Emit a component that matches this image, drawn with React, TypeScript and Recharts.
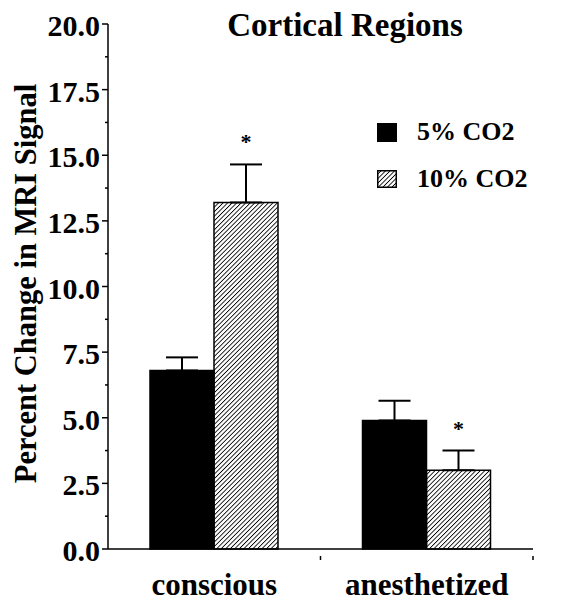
import React from 'react';
import { BarChart, Bar, XAxis, YAxis, ErrorBar } from 'recharts';

const groups = ['conscious', 'anesthetized'];
const co2Low = [6.8, 4.9];
const co2High = [13.2, 3.0];
const errLow = [0.5, 0.75];
const errHigh = [1.45, 0.75];
const sigHigh = [true, true];
const seriesNames = ['5% CO2', '10% CO2'];
const yTicks = [0, 1.25, 2.5, 3.75, 5, 6.25, 7.5, 8.75, 10, 11.25, 12.5, 13.75, 15, 16.25, 17.5, 18.75, 20];

const data = groups.map((g, i) => ({
  name: g,
  low: co2Low[i],
  high: co2High[i],
  eLow: [0, errLow[i]],
  eHigh: [0, errHigh[i]],
  sig: sigHigh[i],
  errH: errHigh[i],
}));

const FONT = '"Liberation Serif", "Times New Roman", serif';

const YTick = (props: any) => {
  const { x, y, payload } = props;
  const major = Math.abs(payload.value / 2.5 - Math.round(payload.value / 2.5)) < 1e-6;
  return (
    <g>
      <line x1={x - (major ? 6 : 3)} x2={x} y1={y} y2={y} stroke="#000" strokeWidth={1.5} />
      {major && (
        <text x={x - 8} y={y} dy={12} textAnchor="end" fontFamily={FONT} fontWeight="bold" fontSize={30} fill="#000">
          {payload.value.toFixed(1)}
        </text>
      )}
    </g>
  );
};

// category label, plus a small tick at the right edge of each band
const XTick = (props: any) => {
  const { x, y, payload } = props;
  const half = payload && payload.offset ? payload.offset : 0;
  return (
    <g>
      {half > 0 && <line x1={x + half} x2={x + half} y1={y - 1} y2={y + 3} stroke="#000" strokeWidth={1.5} />}
      <text x={x} y={y} dy={38} textAnchor="middle" fontFamily={FONT} fontWeight="bold" fontSize={31} fill="#000">
        {payload.value}
      </text>
    </g>
  );
};

const YLabel = (props: any) => {
  const vb = props.viewBox || { x: 0, y: 24, width: 108, height: 525 };
  const cx = vb.x + 26;
  const cy = vb.y + vb.height / 2 - 3;
  return (
    <text x={cx} y={cy} transform={`rotate(-90 ${cx} ${cy})`} textAnchor="middle" dominantBaseline="central"
      fontFamily={FONT} fontWeight="bold" fontSize={30.5} fill="#000">
      Percent Change in MRI Signal
    </text>
  );
};

const Star = (props: any) => {
  const { x, y, width, height, index, value } = props;
  const row = data[index];
  if (!row || !row.sig) return null;
  const perUnit = value ? height / value : 0;
  const top = y - row.errH * perUnit;
  return (
    <text x={x + width / 2} y={top - 15} textAnchor="middle" fontFamily={FONT} fontWeight="bold" fontSize={22} fill="#000">
      *
    </text>
  );
};

const Hatch = ({ id }: { id: string }) => (
  <pattern id={id} width={3.2} height={3.2} patternUnits="userSpaceOnUse" patternTransform="rotate(45)">
    <line x1={0} y1={0} x2={0} y2={3.2} stroke="#000" strokeWidth={1.7} />
  </pattern>
);

const LegendBox = () => (
  <svg width={160} height={80} style={{ display: 'block' }}>
    <defs>
      <Hatch id="hatchLeg" />
    </defs>
    <rect x={0} y={3} width={20} height={19} fill="#000" />
    <text x={40} y={20} fontFamily={FONT} fontWeight="bold" fontSize={26}>{seriesNames[0]}</text>
    <rect x={0.75} y={50.75} width={18.5} height={16.5} fill="url(#hatchLeg)" stroke="#000" strokeWidth={1.5} />
    <text x={40} y={67} fontFamily={FONT} fontWeight="bold" fontSize={26}>{seriesNames[1]}</text>
  </svg>
);

export default function App() {
  return (
    <div style={{ position: 'absolute', left: 0, top: 0, width: 568, height: 600, background: '#fff' }}>
      <BarChart width={568} height={600} data={data} margin={{ top: 24, right: 35, bottom: 6, left: 0 }} barGap={0} barSize={64}>
        <defs>
          <Hatch id="hatch" />
        </defs>
        <XAxis dataKey="name" height={45} axisLine={{ stroke: '#000', strokeWidth: 1.5 }} tickLine={false}
          tick={<XTick />} interval={0} />
        <YAxis domain={[0, 20]} ticks={yTicks} width={108} interval={0} axisLine={{ stroke: '#000', strokeWidth: 1.5 }}
          tickLine={false} tickSize={0} tickMargin={0} tick={<YTick />} label={<YLabel />} />
        <Bar dataKey="low" name={seriesNames[0]} fill="#000" stroke="#000" strokeWidth={1.5} isAnimationActive={false}>
          <ErrorBar dataKey="eLow" width={16} stroke="#000" strokeWidth={2} direction="y" />
        </Bar>
        <Bar dataKey="high" name={seriesNames[1]} fill="url(#hatch)" stroke="#000" strokeWidth={1.5} isAnimationActive={false}
          label={<Star />}>
          <ErrorBar dataKey="eHigh" width={16} stroke="#000" strokeWidth={2} direction="y" />
        </Bar>
      </BarChart>
      <div style={{ position: 'absolute', left: 222, top: 5, width: 246, textAlign: 'center', fontFamily: FONT, fontWeight: 'bold', fontSize: 33, lineHeight: '40px', color: '#000', whiteSpace: 'nowrap' }}>
        Cortical Regions
      </div>
      <div style={{ position: 'absolute', left: 377, top: 120 }}>
        <LegendBox />
      </div>
    </div>
  );
}
